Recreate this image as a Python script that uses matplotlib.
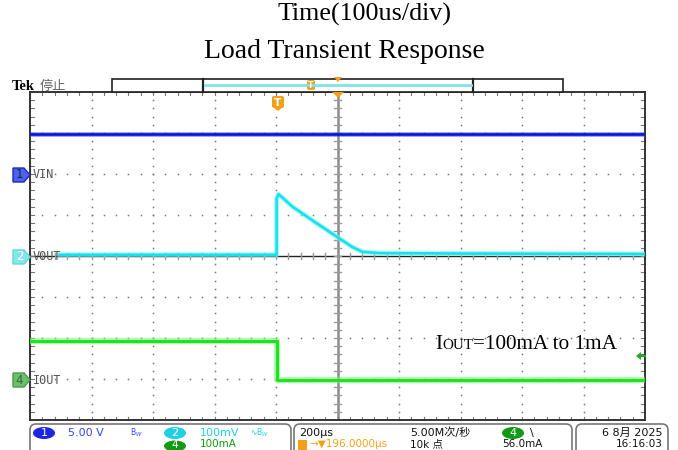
import numpy as np
import matplotlib
matplotlib.use('Agg')
import matplotlib.pyplot as plt
from matplotlib.patches import FancyBboxPatch, Polygon, Rectangle, Ellipse

# traces in screen divisions (x: -5..5, y: -4..4)
vin_x = [-5.0, 5.0]
vin_y = [2.98, 2.98]

vout_x = [-4.52, -0.99, -0.99, -0.96, -0.73, -0.34, 0.0, 0.24, 0.41, 0.68, 2.0, 5.0]
vout_y = [0.03, 0.03, 1.40, 1.51, 1.20, 0.80, 0.46, 0.22, 0.10, 0.07, 0.06, 0.05]

iout_x = [-5.0, -0.99, -0.99, 5.0]
iout_y = [-2.07, -2.07, -3.02, -3.02]

ch_names = ['VIN', 'VOUT', 'IOUT']
ch_nums = ['1', '2', '4']
ch_levels = [175, 257, 380]   # marker rows (px)

W, H = 678, 450
fig = plt.figure(figsize=(W / 100, H / 100), dpi=100)

# scope graticule
ax = fig.add_axes([30 / W, 30 / H, 615 / W, 328 / H])
ax.set_xlim(-5, 5)
ax.set_ylim(-4, 4)
ax.set_xticks([])
ax.set_yticks([])
for s in ax.spines.values():
    s.set_color('#333333')
    s.set_linewidth(1.4)

steps_y = np.arange(-4, 4.001, 0.2)
steps_x = np.arange(-5, 5.001, 0.2)
for gx in [-4, -3, -2, -1, 1, 2, 3, 4]:
    ax.plot([gx] * len(steps_y), steps_y, ls='none', marker='s', ms=1.1, mew=0, color='#777777', zorder=1)
for gy in [-3, -2, -1, 1, 2, 3]:
    ax.plot(steps_x, [gy] * len(steps_x), ls='none', marker='s', ms=1.1, mew=0, color='#777777', zorder=1)

# center cross with minor ticks
ax.axvline(0, color='#8a8a8a', lw=1.8, zorder=1)
ax.axhline(0, color='#222222', lw=1.0, zorder=1)
for yy in steps_y:
    ax.plot([-0.05, 0.05], [yy, yy], color='#999999', lw=1, zorder=1)
    ax.plot([-5, -4.94], [yy, yy], color='#777777', lw=0.8, zorder=1)
    ax.plot([4.94, 5], [yy, yy], color='#777777', lw=0.8, zorder=1)
for xx in steps_x:
    ax.plot([xx, xx], [-0.08, 0.08], color='#999999', lw=1, zorder=1)
    ax.plot([xx, xx], [3.92, 4], color='#777777', lw=0.8, zorder=1)
    ax.plot([xx, xx], [-4, -3.92], color='#777777', lw=0.8, zorder=1)

# waveforms (wide light band underneath mimics the trace noise)
ax.plot(vin_x, vin_y, color='#4050f0', lw=3.6, alpha=0.5, zorder=3)
ax.plot(vin_x, vin_y, color='#0a14d8', lw=1.9, zorder=4)
ax.plot(vout_x, vout_y, color='#80f0f4', lw=3.6, alpha=0.6, zorder=3)
ax.plot(vout_x, vout_y, color='#12e4ee', lw=1.9, zorder=4)
ax.plot(iout_x, iout_y, color='#7ff07f', lw=4.6, alpha=0.6, zorder=3)
ax.plot(iout_x, iout_y, color='#22e022', lw=2.2, zorder=4)

# overlay in pixel coordinates for the scope decorations
ov = fig.add_axes([0, 0, 1, 1])
ov.set_xlim(0, W)
ov.set_ylim(H, 0)
ov.axis('off')
ov.patch.set_alpha(0)

serif = 'Liberation Serif'
sans = ['DejaVu Sans', 'Noto Sans CJK SC']
cjk = ['Noto Sans CJK SC', 'DejaVu Sans']

ov.text(365, 14, 'Time(100us/div)', ha='center', va='center', fontsize=18.7, family=serif)
ov.text(344, 52, 'Load Transient Response', ha='center', va='center', fontsize=20, family=serif)

# Tek header and record bar
ov.text(12, 86, 'Tek', ha='left', va='center', fontsize=10.5, family=serif, weight='bold')
ov.text(40, 86, '停止', ha='left', va='center', fontsize=9.5, family=cjk, color='#666666')
ov.add_patch(Rectangle((112, 79), 451, 13, fc='white', ec='#222222', lw=1.2))
ov.plot([203, 203], [79, 92], color='#222222', lw=1.6)
ov.plot([473, 473], [79, 92], color='#222222', lw=1.6)
ov.plot([205, 471], [85, 85], color='#7fe4ea', lw=2)
orange = '#f5a01a'
ov.add_patch(FancyBboxPatch((307, 80), 8, 10, boxstyle='round,pad=0,rounding_size=2', fc=orange, ec='none'))
ov.text(311, 85.5, 'T', ha='center', va='center', fontsize=5.5, color='white', weight='bold')
ov.add_patch(Polygon([(334, 77), (342, 77), (338, 82)], fc=orange, ec='none'))
ov.add_patch(Polygon([(332, 92), (344, 92), (338, 98)], fc=orange, ec='none'))
ov.add_patch(FancyBboxPatch((272, 96), 12, 12, boxstyle='round,pad=0,rounding_size=2', fc=orange, ec='none'))
ov.add_patch(Polygon([(273, 107), (283, 107), (278, 111)], fc=orange, ec='none'))
ov.text(278, 102.5, 'T', ha='center', va='center', fontsize=7.5, color='white', weight='bold')

# channel badges
badge_fc = ['#4f62e0', '#86e6ec', '#6cbf6c']
badge_ec = ['#1a2acc', '#5fd8e0', '#4a9a4a']
badge_tc = ['#10208a', 'white', '#2f6f2f']
for name, num, yy, fc, ec, tc in zip(ch_names, ch_nums, ch_levels, badge_fc, badge_ec, badge_tc):
    ov.add_patch(Polygon([(13, yy - 7), (24, yy - 7), (30, yy), (24, yy + 7), (13, yy + 7)],
                         fc=fc, ec=ec, lw=1))
    ov.text(19.5, yy, num, ha='center', va='center', fontsize=8.5, color=tc)
    ov.text(33, yy, name, ha='left', va='center', fontsize=8.5, color='#555555', family='DejaVu Sans Mono')

# trigger level arrow
ov.add_patch(Polygon([(636, 356), (641, 352), (641, 360)], fc='#22aa22', ec='none'))
ov.plot([640, 645], [356, 356], color='#22aa22', lw=1.5)

# Iout annotation (small caps OUT)
fig.canvas.draw()
rend = fig.canvas.get_renderer()
t1 = ov.text(435, 349, 'I', ha='left', va='baseline', fontsize=15.3, family=serif)
x_next = ov.transData.inverted().transform(t1.get_window_extent(rend))[1][0]
t2 = ov.text(x_next, 349, 'OUT', ha='left', va='baseline', fontsize=10.8, family=serif)
x_next = ov.transData.inverted().transform(t2.get_window_extent(rend))[1][0]
ov.text(x_next, 349, '=100mA to 1mA', ha='left', va='baseline', fontsize=15.3, family=serif)

# status bar
box_kw = dict(boxstyle='round,pad=0,rounding_size=6', fc='white', ec='#777777', lw=1.2)
ov.add_patch(FancyBboxPatch((30, 424), 261, 40, **box_kw))
ov.add_patch(FancyBboxPatch((294, 424), 278, 40, **box_kw))
ov.add_patch(FancyBboxPatch((576, 424), 92, 40, **box_kw))

row1, row2 = 433, 444
blue, cyan, green = '#1a28e6', '#22cfe0', '#139a13'
ov.add_patch(Ellipse((44, row1), 22, 12, fc=blue, ec='none'))
ov.text(44, row1, '1', ha='center', va='center', fontsize=8, color='white')
ov.text(68, row1, '5.00 V', ha='left', va='center', fontsize=8, color='#3344ee')
ov.text(130, row1, 'B$_W$', ha='left', va='center', fontsize=5.5, color='#3344ee')
ov.add_patch(Ellipse((175, row1), 22, 12, fc=cyan, ec='none'))
ov.text(175, row1, '2', ha='center', va='center', fontsize=8, color='white')
ov.text(200, row1, '100mV', ha='left', va='center', fontsize=8, color=cyan)
ov.text(250, row1, '∿B$_W$', ha='left', va='center', fontsize=5.5, color=cyan)
ov.add_patch(Ellipse((175, row2 + 2), 22, 11, fc=green, ec='none'))
ov.text(175, row2 + 1, '4', ha='center', va='center', fontsize=7.5, color='white')
ov.text(200, row2, '100mA', ha='left', va='center', fontsize=7.5, color=green)

ov.text(299, row1, '200µs', ha='left', va='center', fontsize=8, color='#111111')
ov.add_patch(Rectangle((298, 440), 9, 10, fc=orange, ec='none'))
ov.text(309, row2, '→▼196.0000µs', ha='left', va='center', fontsize=7.5, color=orange)
ov.text(410, row1, '5.00M次/秒', ha='left', va='center', fontsize=8, family=sans, color='#111111')
ov.text(410, row2, '10k 点', ha='left', va='center', fontsize=7.5, family=sans, color='#111111')
ov.add_patch(Ellipse((513, row1), 22, 12, fc=green, ec='none'))
ov.text(513, row1, '4', ha='center', va='center', fontsize=8, color='white')
ov.text(530, row1, '\\', ha='left', va='center', fontsize=8, color='#111111')
ov.text(502, row2, '56.0mA', ha='left', va='center', fontsize=7.5, color='#111111')

ov.text(663, row1, '6 8月 2025', ha='right', va='center', fontsize=8, family=sans, color='#111111')
ov.text(663, row2, '16:16:03', ha='right', va='center', fontsize=7.5, color='#111111')

fig.savefig('out.png', dpi=100)
